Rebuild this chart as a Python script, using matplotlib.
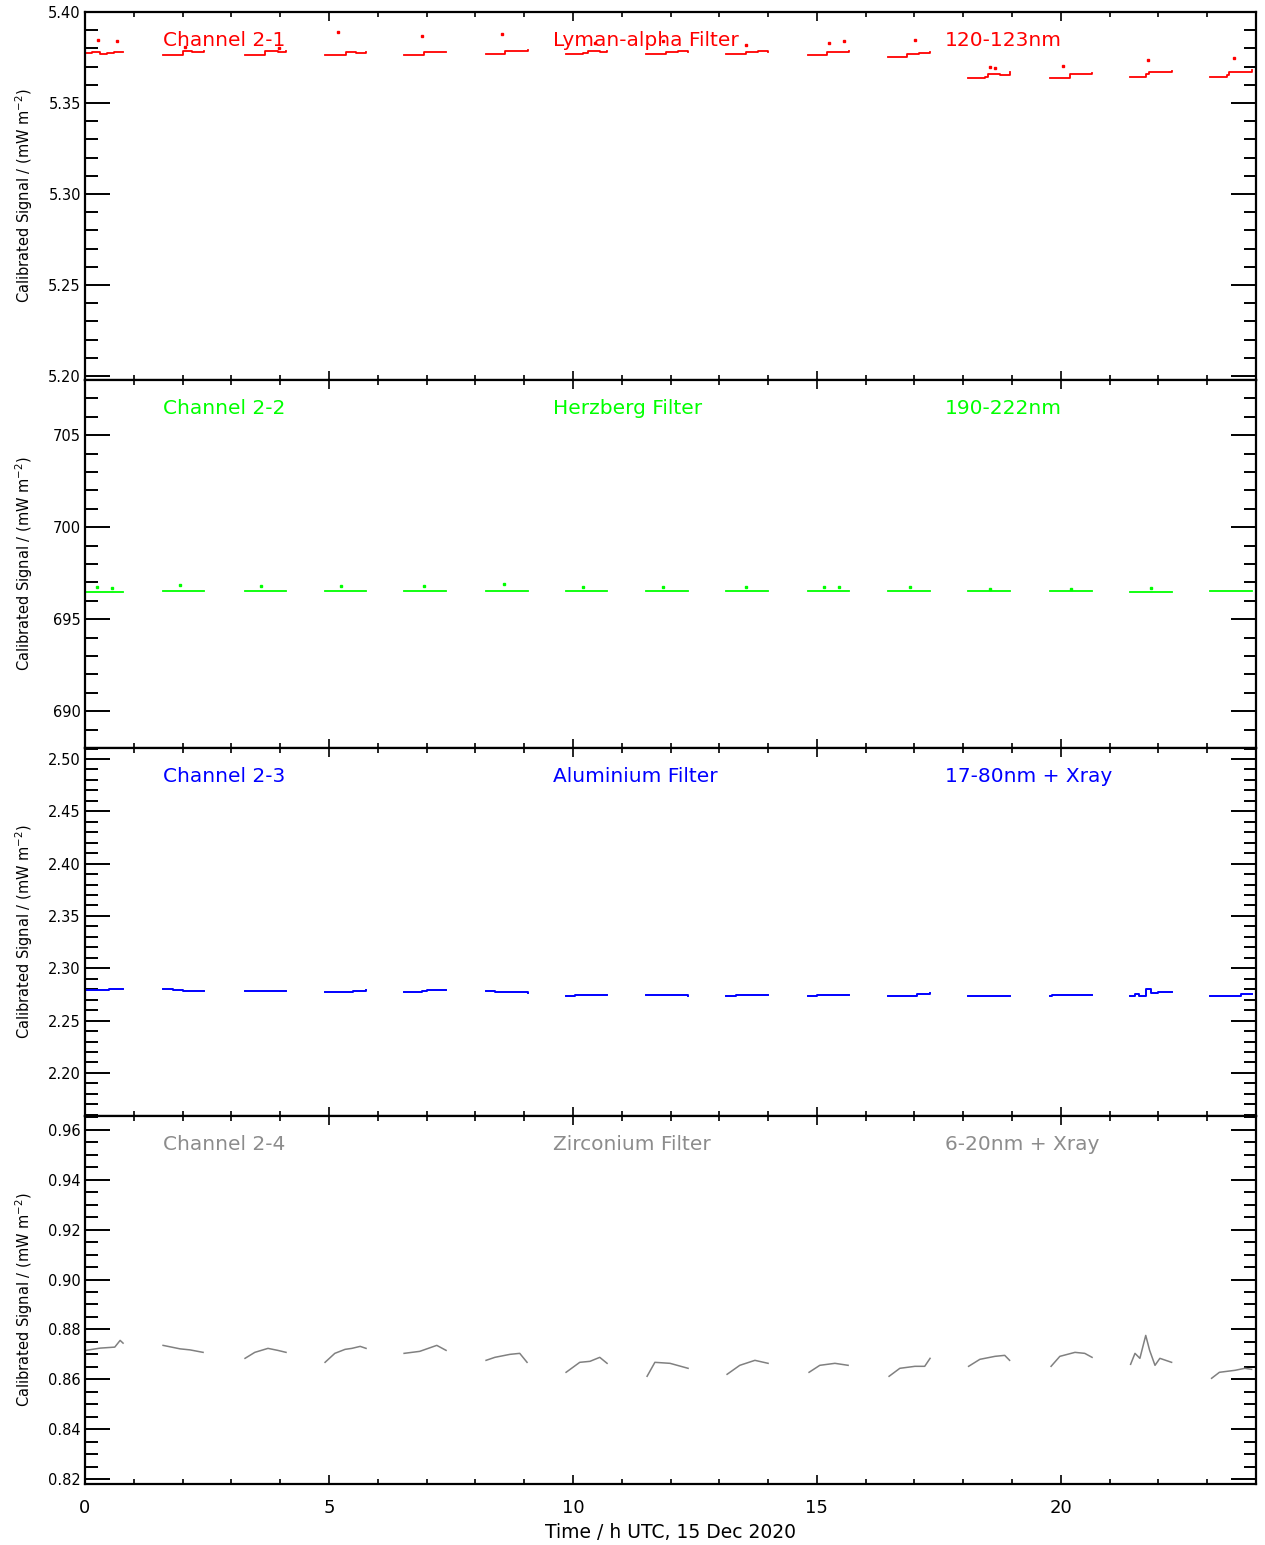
import numpy as np
import matplotlib.pyplot as plt
from matplotlib.ticker import MultipleLocator
import matplotlib.transforms as mtransforms

## data (time in h UTC)

# orbit windows (same for all channels)
orbit_start = [0.02, 1.60, 3.28, 4.92, 6.54, 8.22, 9.86, 11.50, 13.14, 14.82,
               16.46, 18.10, 19.78, 21.42, 23.06]
orbit_end = [0.78, 2.44, 4.12, 5.76, 7.40, 9.08, 10.70, 12.36, 14.00, 15.66,
             17.32, 18.95, 20.64, 22.28, 23.92]

# channel 2-1, Lyman-alpha (stepped signal)
ch1_t = [0.02, 0.15, 0.30, 0.45, 0.60, 0.78,
         1.60, 1.95, 2.00, 2.20, 2.44,
         3.28, 3.62, 3.68, 3.95, 4.12,
         4.92, 5.30, 5.35, 5.55, 5.76,
         6.54, 6.90, 6.95, 7.20, 7.40,
         8.22, 8.55, 8.60, 8.85, 9.08,
         9.86, 10.20, 10.30, 10.55, 10.70,
         11.50, 11.85, 11.90, 12.15, 12.36,
         13.14, 13.50, 13.55, 13.80, 14.00,
         14.82, 15.15, 15.20, 15.45, 15.66,
         16.46, 16.80, 16.85, 17.10, 17.32,
         18.10, 18.45, 18.50, 18.75, 18.95,
         19.78, 20.12, 20.18, 20.40, 20.64,
         21.42, 21.75, 21.80, 22.05, 22.28,
         23.06, 23.40, 23.45, 23.70, 23.92]
ch1_v = [5.3772, 5.3778, 5.3770, 5.3772, 5.3780, 5.3778,
         5.3765, 5.3765, 5.3785, 5.3782, 5.3788,
         5.3765, 5.3765, 5.3788, 5.3780, 5.3785,
         5.3765, 5.3765, 5.3780, 5.3775, 5.3782,
         5.3765, 5.3765, 5.3778, 5.3782, 5.3780,
         5.3768, 5.3768, 5.3785, 5.3788, 5.3792,
         5.3770, 5.3772, 5.3785, 5.3780, 5.3788,
         5.3768, 5.3770, 5.3782, 5.3785, 5.3782,
         5.3770, 5.3770, 5.3780, 5.3785, 5.3782,
         5.3765, 5.3765, 5.3778, 5.3782, 5.3785,
         5.3752, 5.3755, 5.3770, 5.3772, 5.3778,
         5.3640, 5.3642, 5.3660, 5.3655, 5.3668,
         5.3640, 5.3640, 5.3662, 5.3658, 5.3665,
         5.3645, 5.3660, 5.3672, 5.3670, 5.3675,
         5.3645, 5.3655, 5.3670, 5.3672, 5.3680]
ch1_dot_t = [0.27, 0.66, 2.05, 3.98, 5.18, 6.90, 8.55, 10.45, 11.85,
             13.55, 15.25, 15.55, 17.01, 18.55, 18.65, 20.05, 21.78, 23.55]
ch1_dot_v = [5.3845, 5.3838, 5.3810, 5.3800, 5.3890, 5.3870, 5.3880, 5.3830, 5.3840,
             5.3820, 5.3832, 5.3838, 5.3848, 5.3700, 5.3690, 5.3705, 5.3734, 5.3745]

# channel 2-2, Herzberg (flat)
ch2_level = [696.50, 696.52, 696.52, 696.52, 696.52, 696.52, 696.52, 696.52,
             696.52, 696.52, 696.52, 696.52, 696.52, 696.50, 696.52]
ch2_dot_t = [0.25, 0.55, 1.95, 3.60, 5.25, 6.95, 8.58, 10.20, 11.85, 13.55,
             15.15, 15.45, 16.90, 18.55, 20.20, 21.85]
ch2_dot_v = [696.75, 696.70, 696.85, 696.80, 696.80, 696.80, 696.90, 696.75,
             696.75, 696.75, 696.75, 696.75, 696.75, 696.65, 696.65, 696.70]

# channel 2-3, Aluminium (stepped)
ch3_t = [0.02, 0.45, 0.50, 0.78,
         1.60, 1.80, 2.00, 2.44,
         3.28, 4.12,
         4.92, 5.40, 5.50, 5.76,
         6.54, 6.90, 7.00, 7.40,
         8.22, 8.40, 8.70, 8.90, 9.08,
         9.86, 10.05, 10.70,
         11.50, 12.30, 12.36,
         13.14, 13.35, 14.00,
         14.82, 15.00, 15.66,
         16.46, 16.90, 17.05, 17.32,
         18.10, 18.95,
         19.78, 19.82, 20.64,
         21.42, 21.52, 21.60, 21.75, 21.85, 22.00, 22.28,
         23.06, 23.60, 23.70, 23.92]
ch3_v = [2.2795, 2.2795, 2.2805, 2.2805,
         2.2805, 2.2790, 2.2785, 2.2785,
         2.2780, 2.2780,
         2.2772, 2.2775, 2.2785, 2.2790,
         2.2775, 2.2780, 2.2790, 2.2790,
         2.2780, 2.2770, 2.2770, 2.2775, 2.2765,
         2.2735, 2.2745, 2.2745,
         2.2740, 2.2740, 2.2732,
         2.2735, 2.2745, 2.2745,
         2.2735, 2.2745, 2.2745,
         2.2735, 2.2735, 2.2750, 2.2765,
         2.2732, 2.2732,
         2.2735, 2.2745, 2.2745,
         2.2735, 2.2750, 2.2735, 2.2805, 2.2760, 2.2770, 2.2770,
         2.2735, 2.2735, 2.2750, 2.2750]

# channel 2-4, Zirconium (smooth arcs)
ch4_t = [0.02, 0.31, 0.61, 0.72, 0.78,
         1.60, 1.95, 2.15, 2.42,
         3.28, 3.48, 3.75, 3.95, 4.12,
         4.92, 5.12, 5.33, 5.47, 5.64, 5.76,
         6.54, 6.86, 7.21, 7.40,
         8.22, 8.40, 8.71, 8.91, 9.06,
         9.86, 10.14, 10.35, 10.55, 10.70,
         11.52, 11.68, 11.99, 12.36,
         13.16, 13.42, 13.73, 14.00,
         14.84, 15.06, 15.37, 15.64,
         16.48, 16.70, 17.01, 17.21, 17.32,
         18.11, 18.34, 18.65, 18.85, 18.95,
         19.80, 19.98, 20.29, 20.49, 20.64,
         21.43, 21.52, 21.62, 21.74, 21.82, 21.93, 22.03, 22.27,
         23.09, 23.25, 23.57, 23.77, 23.91]
ch4_v = [0.8716, 0.8725, 0.8729, 0.8756, 0.8745,
         0.8736, 0.8722, 0.8718, 0.8708,
         0.8684, 0.8708, 0.8724, 0.8716, 0.8708,
         0.8668, 0.8704, 0.8720, 0.8724, 0.8732, 0.8724,
         0.8704, 0.8712, 0.8736, 0.8716,
         0.8676, 0.8688, 0.8700, 0.8704, 0.8668,
         0.8628, 0.8668, 0.8672, 0.8688, 0.8664,
         0.8612, 0.8668, 0.8664, 0.8644,
         0.8620, 0.8656, 0.8676, 0.8664,
         0.8628, 0.8656, 0.8664, 0.8656,
         0.8612, 0.8644, 0.8652, 0.8652, 0.8684,
         0.8652, 0.8680, 0.8692, 0.8696, 0.8676,
         0.8652, 0.8692, 0.8708, 0.8704, 0.8688,
         0.8660, 0.8704, 0.8684, 0.8776, 0.8716, 0.8656, 0.8684, 0.8668,
         0.8604, 0.8628, 0.8636, 0.8644, 0.8640]

labels = [("Channel 2-1", "Lyman-alpha Filter", "120-123nm"),
          ("Channel 2-2", "Herzberg Filter", "190-222nm"),
          ("Channel 2-3", "Aluminium Filter", "17-80nm + Xray"),
          ("Channel 2-4", "Zirconium Filter", "6-20nm + Xray")]
colors = ["#ff0000", "#00ff00", "#0000ff", "#808080"]
text_colors = ["#ff0000", "#00ff00", "#0000ff", "#8c8c8c"]
ylims = [(5.1978, 5.40), (688.0, 708.0), (2.1588, 2.5105), (0.818, 0.9656)]
ymajor = [0.05, 5, 0.05, 0.02]
yminor = [0.01, 1, 0.01, 0.005]
yfmt = ["%.2f", "%d", "%.2f", "%.2f"]


def split_orbits(t, v):
    # one piece per orbit window
    t = np.asarray(t)
    v = np.asarray(v)
    idx = np.searchsorted(t, orbit_start[1:])
    return zip(np.split(t, idx), np.split(v, idx))


fig = plt.figure(figsize=(12.65, 15.45), dpi=100)
left, width = 85 / 1265, 1171 / 1265
h = 368 / 1545
bottom0 = 1 - 1484 / 1545
axes = [fig.add_axes([left, bottom0 + (3 - i) * h, width, h]) for i in range(4)]

# panel 1
for tt, vv in split_orbits(ch1_t, ch1_v):
    axes[0].plot(tt, vv, color=colors[0], lw=1.3, drawstyle="steps-post")
axes[0].plot(ch1_dot_t, ch1_dot_v, ls="none", marker="s", ms=1.8, color=colors[0])

# panel 2
for t0, t1, lev in zip(orbit_start, orbit_end, ch2_level):
    axes[1].plot([t0, t1], [lev, lev], color=colors[1], lw=1.3)
axes[1].plot(ch2_dot_t, ch2_dot_v, ls="none", marker="s", ms=1.8, color=colors[1])

# panel 3
for tt, vv in split_orbits(ch3_t, ch3_v):
    axes[2].plot(tt, vv, color=colors[2], lw=1.4, drawstyle="steps-post")

# panel 4
for tt, vv in split_orbits(ch4_t, ch4_v):
    axes[3].plot(tt, vv, color=colors[3], lw=1.1)

for i, ax in enumerate(axes):
    ax.set_xlim(0, 24)
    ax.set_ylim(*ylims[i])
    ax.xaxis.set_major_locator(MultipleLocator(5))
    ax.xaxis.set_minor_locator(MultipleLocator(1))
    ax.yaxis.set_major_locator(MultipleLocator(ymajor[i]))
    ax.yaxis.set_minor_locator(MultipleLocator(yminor[i]))
    ax.yaxis.set_major_formatter(plt.FormatStrFormatter(yfmt[i]))
    ax.tick_params(axis="x", which="major", direction="in", length=6.5, width=1.2,
                   top=True, bottom=True, labelsize=13, pad=11)
    ax.tick_params(axis="x", which="minor", direction="in", length=3.3, width=1.2,
                   top=True, bottom=True)
    ax.tick_params(axis="y", which="major", direction="in", length=18, width=1.4,
                   left=True, right=True, labelsize=10.5, pad=3)
    ax.tick_params(axis="y", which="minor", direction="in", length=9, width=1.4,
                   left=True, right=True)
    for sp in ax.spines.values():
        sp.set_linewidth(1.6)
    if i < 3:
        ax.tick_params(axis="x", labelbottom=False)
    ax.set_ylabel(r"Calibrated Signal / (mW m$^{-2}$)", fontsize=10.5)
    ax.yaxis.set_label_coords(-0.043, 0.5)

    trans = mtransforms.blended_transform_factory(ax.transData, ax.transAxes)
    for xpos, txt in zip([1.6, 9.6, 17.62], labels[i]):
        ax.text(xpos, 0.922, txt, transform=trans, color=text_colors[i],
                fontsize=14.5, ha="left", va="center")

axes[3].set_xlabel("Time / h UTC, 15 Dec 2020", fontsize=13.5, labelpad=4)

plt.savefig("out.png", dpi=100)
